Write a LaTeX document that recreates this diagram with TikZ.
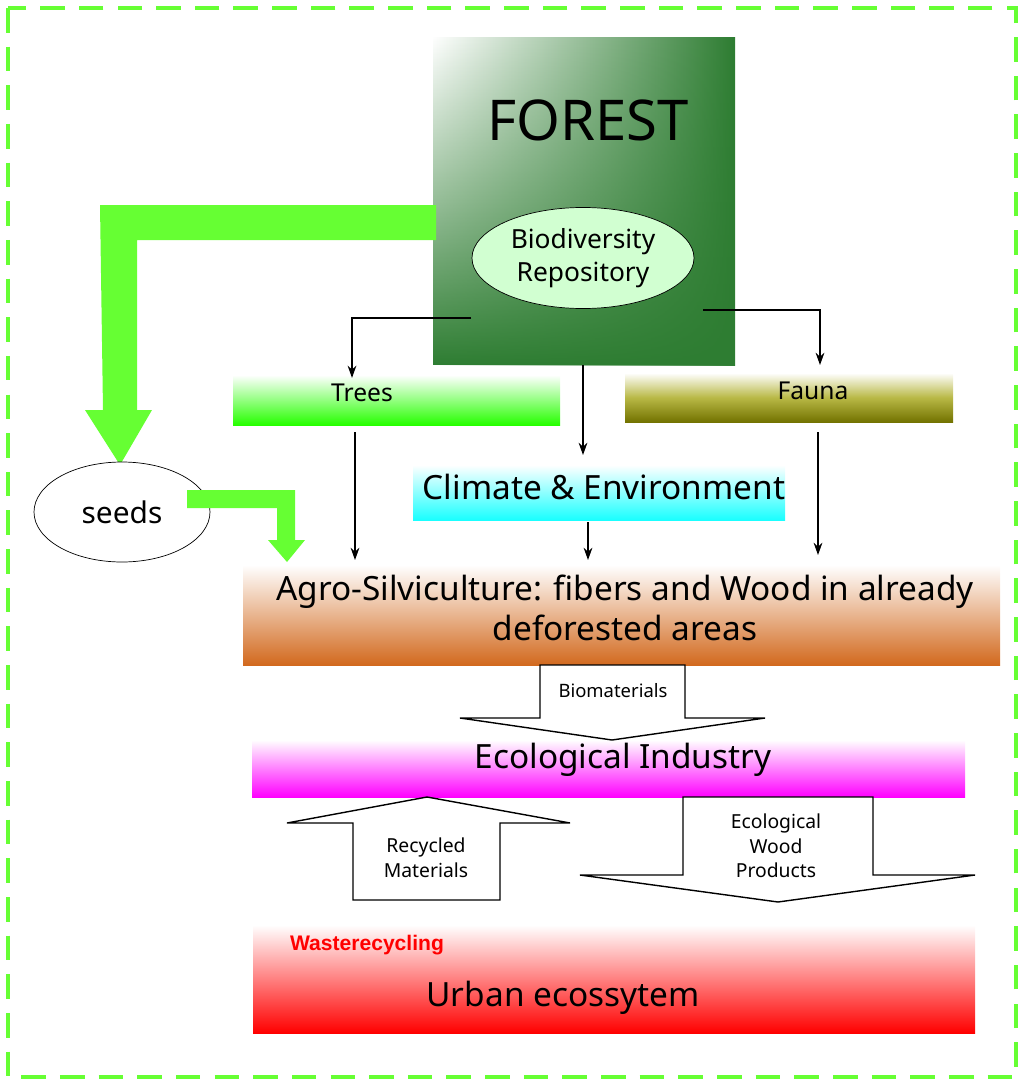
\documentclass[tikz,border=0pt]{standalone}
\usepackage{fontspec}
\setmainfont{Noto Sans}
\newfontfamily\arialf{Liberation Sans}
\usetikzlibrary{shapes.geometric,fadings,arrows.meta}
\definecolor{lgreen}{HTML}{66FF33}
\definecolor{fgreen}{HTML}{2E7D32}
\tikzset{
  band/.style={draw=none},
  thin arrow/.style={-{Stealth[length=7pt,width=5pt]},line width=0.7pt},
  hollow/.style={draw=black,fill=white,line width=0.8pt},
  bigtxt/.style={font=\fontsize{19}{23}\selectfont},
}
\begin{document}
\begin{tikzpicture}[x=0.02cm,y=-0.02cm]
  \useasboundingbox (0,0) rectangle (1024,1085);
  % border
  \draw [lgreen,line width=2.4pt,dash pattern=on 14pt off 8pt] (8,8) rectangle (1016,1077);
  % forest
  \fill [left color=white,right color=fgreen] (433,37) rectangle (735,365);
  \fill [fgreen,path fading=north] (433,37) rectangle (735,365);
  \node (forest) at (588,120) {\fontsize{32}{36}\selectfont\bfseries FOREST};
  \node (bio) [ellipse,draw,fill=green!18,minimum width=222*0.02cm,minimum height=100*0.02cm,
    align=center,font=\fontsize{15}{19}\selectfont\bfseries] at (583,258) {Biodiversity\\Repository};
  % big green arrow
  \fill [lgreen] (100,205) -- (436,205) -- (436,240) -- (137,240) -- (137,410) -- (152,410)
    -- (120,465) -- (85,410) -- (103,410) -- cycle;
  \node (seeds) [ellipse,draw,fill=white,minimum width=176*0.02cm,minimum height=100*0.02cm,
    font=\fontsize{17}{20}\selectfont] at (122,512) {seeds};
  \fill [lgreen] (187,490) -- (295,490) -- (295,540) -- (305,540) -- (287,562) -- (268,540)
    -- (277,540) -- (277,508) -- (187,508) -- cycle;
  % bands
  \fill [top color=white,bottom color=green!80!lime] (233,375) rectangle (560,425);
  \node (trees) at (362,393) {\fontsize{14}{17}\selectfont\bfseries Trees};
  \fill [top color=white,bottom color=olive!90!black] (625,373) rectangle (953,422);
  \node (fauna) at (813,391) {\fontsize{14}{17}\selectfont\bfseries Fauna};
  \fill [top color=white,bottom color=cyan!90] (413,465) rectangle (785,520);
  \node (clim) [bigtxt] at (604,487) {Climate \& Environment};
  \fill [top color=white,bottom color={rgb,255:red,210;green,105;blue,30}] (243,565) rectangle (1000,665);
  \node (agro) [bigtxt,align=center] at (625,608)
    {Agro-Silviculture: fibers and Wood in already\\deforested areas};
  \fill [top color=white,bottom color=magenta] (252,740) rectangle (965,797);
  \node (ind) [bigtxt] at (623,760) {Ecological Industry};
  \fill [top color=white,bottom color=red] (253,925) rectangle (975,1033);
  \node (waste) at (367,945) {\arialf\fontsize{12}{14}\selectfont\bfseries\color{red}Wasterecycling};
  \node (urban) [bigtxt] at (563,998) {Urban ecossytem};
  % thin connectors
  \coordinate (b1) at (471,318);
  \coordinate (b2) at (703,310);
  \coordinate (fb) at (583,365);
  \draw [thin arrow] (b1) -| (trees.north -| 352,370);
  \draw [thin arrow] (b2) -| (820,365);
  \draw [thin arrow] (fb) -- (583,455);
  \draw [thin arrow] (355,432) -- (355,560);
  \draw [thin arrow] (818,432) -- (818,555);
  \draw [thin arrow] (588,522) -- (588,560);
  % hollow arrows
  \draw [hollow] (540,665) -- (685,665) -- (685,718) -- (765,718) -- (612,740) -- (460,718)
    -- (540,718) -- cycle;
  \node (biom) at (613,691) {\fontsize{10.5}{12}\selectfont Biomaterials};
  \draw [hollow] (353,900) -- (500,900) -- (500,823) -- (570,823) -- (427,797) -- (287,823)
    -- (353,823) -- cycle;
  \node (rec) [align=center,font=\fontsize{11}{14}\selectfont] at (426,858) {Recycled\\Materials};
  \draw [hollow] (683,797) -- (873,797) -- (873,875) -- (975,875) -- (778,902) -- (580,875)
    -- (683,875) -- cycle;
  \node (prod) [align=center,font=\fontsize{11}{14}\selectfont] at (776,846) {Ecological\\Wood\\Products};
\end{tikzpicture}
\end{document}
